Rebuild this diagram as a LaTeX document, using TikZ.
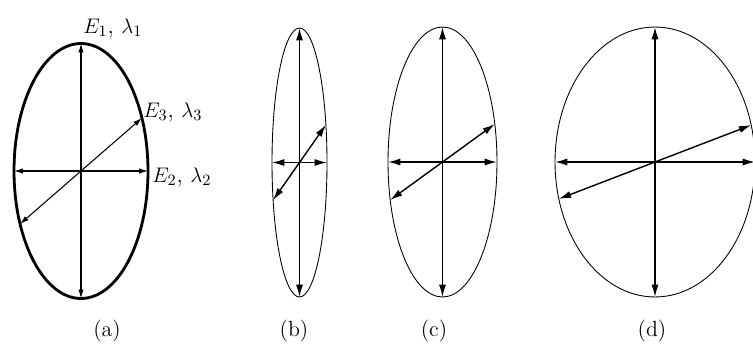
\documentclass[tikz,border=0pt]{standalone}
\usepackage{amsmath}
\usepackage{amssymb}
\usetikzlibrary{shapes.geometric,arrows.meta}

\begin{document}
\begin{tikzpicture}[x=0.02cm, y=-0.02cm,
        ell/.style={ellipse, draw, inner sep=0pt, outer sep=0pt, line width=0.5pt},
        axis/.style={{Latex[length=7pt,width=4pt]}-{Latex[length=7pt,width=4pt]}, line width=0.8pt},
        axissmall/.style={{Latex[length=5pt,width=3pt]}-{Latex[length=5pt,width=3pt]}, line width=0.6pt},
        eig/.style={font=\fontsize{13}{16}\selectfont, inner sep=0pt}]
    \useasboundingbox (0,0) rectangle (753,345);

    % (a) the eigenvectors, thick outline
    \node[ell, line width=1.6pt, minimum width=2.68cm, minimum height=5.1cm] (ea) at (81,171) {};
    \draw[axissmall] (ea.south) -- (ea.north);
    \draw[axissmall] (ea.west) -- (ea.east);
    \draw[axissmall] (ea.221) -- (ea.41);
    \node[eig, anchor=base west] (e1) at (83,33) {$E_1$, $\lambda_1$};
    \node[eig, anchor=base west] (e3) at (143,117) {$E_3$, $\lambda_3$};
    \node[eig, anchor=base west] (e2) at (152,182) {$E_2$, $\lambda_2$};

    % (b) narrow
    \node[ell, minimum width=1.1cm, minimum height=5.38cm] (eb) at (299.5,162.5) {};
    \draw[axis] (eb.south) -- (eb.north);
    \draw[axis] (eb.west) -- (eb.east);
    \draw[axis] (eb.235) -- (eb.55);

    % (c)
    \node[ell, minimum width=2.18cm, minimum height=5.4cm] (ec) at (442.5,162) {};
    \draw[axis] (ec.south) -- (ec.north);
    \draw[axis] (ec.west) -- (ec.east);
    \draw[axis] (ec.216.5) -- (ec.36.5);

    % (d) wide, runs off the right edge
    \node[ell, minimum width=4cm, minimum height=5.4cm] (ed) at (655,162) {};
    \draw[axis] (ed.south) -- (ed.north);
    \draw[axis] (ed.west) -- (ed.east);
    \draw[axis] (ed.201.5) -- (ed.21.5);

    % captions
    \foreach \name/\x in {a/107, b/294, c/434, d/652}
        \node[font=\fontsize{12.5}{14}\selectfont] (lab\name) at (\x,331) {(\name)};
\end{tikzpicture}
\end{document}
